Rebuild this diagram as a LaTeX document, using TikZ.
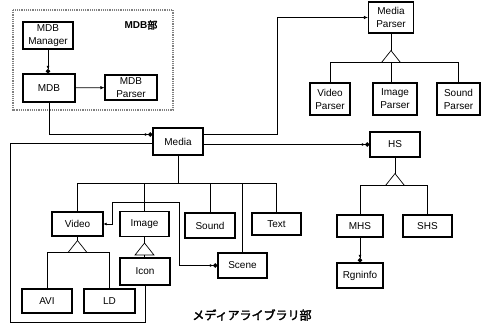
\documentclass[tikz,border=0pt]{standalone}
\usepackage{fontspec}
\setmainfont{Liberation Sans}
\newfontfamily\jpfont[AutoFakeBold=2.5]{Noto Sans CJK JP}
\usetikzlibrary{arrows.meta,calc}

\begin{document}
\begin{tikzpicture}[x=1pt, y=-1pt, line width=0.7pt,
    box/.style={draw, line width=1.1pt, align=center, inner sep=1pt,
        font=\fontsize{10}{13}\selectfont},
    arr/.style={-{Latex[length=4pt,width=3.5pt]}},
    has/.style={-{Latex[length=3pt,width=3pt]Circle[length=4.5pt]}},
    gen/.pic={
        \draw[fill=white] (0,0) coordinate (-top) -- (-9.5,12) -- (9.5,12) -- cycle;
        \coordinate (-bot) at (0,12);
    }]
    \useasboundingbox (0,0) rectangle (485,323);

    % MDB part
    \draw[densely dotted, gray, line width=1.2pt] (13,10) rectangle (173,110);
    \node[font=\bfseries\fontsize{10}{12}\selectfont] (mdbpart) at (141,25) {MDB{\jpfont 部}};
    \node[box, minimum width=50pt, minimum height=27pt] (mdbmgr) at (48,35.5) {MDB\\Manager};
    \node[box, minimum width=52pt, minimum height=28pt] (mdb) at (49,88) {MDB};
    \node[box, minimum width=52pt, minimum height=25pt] (mdbparser) at (131,87.5) {MDB\\Parser};

    % parsers
    \node[box, minimum width=45pt, minimum height=31pt] (mparser) at (391,17.5) {Media\\Parser};
    \node[box, minimum width=40pt, minimum height=32pt] (vparser) at (330,99) {Video\\Parser};
    \node[box, minimum width=44pt, minimum height=32pt] (iparser) at (395,99) {Image\\Parser};
    \node[box, minimum width=43pt, minimum height=32pt] (sparser) at (458.5,99) {Sound\\Parser};

    % media library
    \node[box, minimum width=50pt, minimum height=27pt] (media) at (178,141.5) {Media};
    \node[box, minimum width=51pt, minimum height=24pt] (video) at (77.5,224) {Video};
    \node[box, minimum width=49pt, minimum height=25pt] (image) at (144.5,224) {Image};
    \node[box, minimum width=50pt, minimum height=25pt] (sound) at (210,225.5) {Sound};
    \node[box, minimum width=49pt, minimum height=22pt] (text) at (276.5,224) {Text};
    \node[box, minimum width=49pt, minimum height=25pt] (scene) at (242.5,265.5) {Scene};
    \node[box, minimum width=50pt, minimum height=27pt] (icon) at (145,271.5) {Icon};
    \node[box, minimum width=50pt, minimum height=24pt] (avi) at (47,301) {AVI};
    \node[box, minimum width=51pt, minimum height=24pt] (ld) at (109.5,301) {LD};

    % HS
    \node[box, minimum width=50pt, minimum height=25pt] (hs) at (395,144.5) {HS};
    \node[box, minimum width=46pt, minimum height=22pt] (mhs) at (360,226) {MHS};
    \node[box, minimum width=49pt, minimum height=22pt] (shs) at (427.5,226) {SHS};
    \node[box, minimum width=46pt, minimum height=25pt] (rgninfo) at (360,275.5) {Rgninfo};

    \node[font=\jpfont\bfseries\fontsize{12}{14}\selectfont] (libpart) at (252,315) {メディアライブラリ部};

    % connectors
    \draw[has] (mdbmgr.south) -- (mdbmgr.south |- mdb.north);
    \draw[arr] (mdb) -- (mdbparser);
    \draw[has] (mdb.south) |- ([yshift=7pt]media.west);
    \draw ([yshift=-2pt]media.west) -| (10,322) -| (icon.south);
    \draw[arr] ([yshift=7pt]media.east) -- ++(74,0) |- (mparser.west);
    \draw[has] (media.east |- hs.west) -- (hs.west);

    \coordinate (bus) at (178,183);
    \draw (media) -- (bus);
    \foreach \n in {video,image,sound,scene,text}
        \draw (bus) -| (\n.north);

    \pic (vg) at ([yshift=-4pt]video.south) {gen};
    \draw (video.south) -- (vg-top);
    \draw (avi.north) |- (vg-bot) -| (ld.north);

    \pic (ig) at ([yshift=-6pt]image.south) {gen};
    \draw (image.south) -- (ig-top);
    \draw (ig-bot) -- (ig-bot |- icon.north);

    \draw[{Latex[length=3pt,width=3pt]}-{Latex[length=3pt,width=3pt]Circle[length=4.5pt]}]
        (video.east) -| (112,202) -| (179,265.5) -- (scene.west);

    \pic (mg) at ([yshift=-17pt]mparser.south) {gen};
    \draw (mparser.south) -- (mg-top);
    \draw (vparser.north) |- (mg-bot) -| (sparser.north);
    \draw (mg-bot) -- (mg-bot |- iparser.north);

    \pic (hg) at ([yshift=-16pt]hs.south) {gen};
    \draw (hs.south) -- (hg-top);
    \draw (mhs.north) |- (hg-bot) -| (shs.north);
    \draw[has] (mhs) -- (rgninfo);
\end{tikzpicture}
\end{document}
